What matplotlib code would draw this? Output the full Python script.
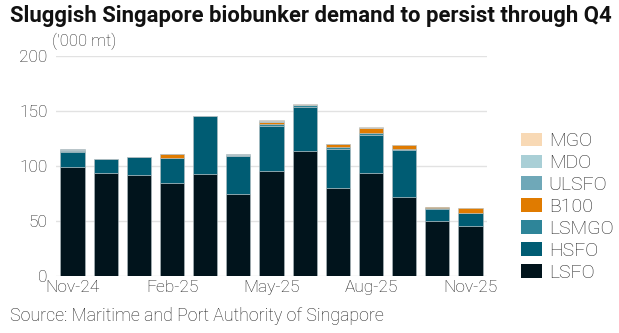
import numpy as np
import matplotlib
matplotlib.use("Agg")
import matplotlib.pyplot as plt

plt.rcParams['font.family'] = ['Roboto', 'DejaVu Sans']
plt.rcParams['font.weight'] = 'light'

# 月ラベル
months = ["Nov-24", "Dec-24", "Jan-25", "Feb-25", "Mar-25", "Apr-25", "May-25",
          "Jun-25", "Jul-25", "Aug-25", "Sep-25", "Oct-25", "Nov-25"]

# 燃料別の数量 ('000 mt)
lsfo  = [99.0, 94.0, 91.5, 85.0, 93.0, 75.0, 95.5, 114.0, 80.5, 93.5, 71.5, 50.0, 45.5]
hsfo  = [14.0, 12.0, 16.5, 22.0, 52.0, 34.0, 41.0, 39.5, 35.0, 34.5, 43.0, 11.0, 11.5]
lsmgo = [1.0, 0.3, 0.3, 0.5, 0.5, 0.5, 2.0, 1.5, 1.5, 2.0, 0.5, 0.5, 0.5]
b100  = [0.0, 0.0, 0.0, 3.0, 0.0, 0.0, 1.5, 0.0, 2.5, 4.5, 4.0, 1.5, 4.5]
ulsfo = [0.5, 0.0, 0.0, 0.0, 0.0, 0.3, 0.3, 0.5, 0.0, 0.0, 0.0, 0.0, 0.0]
mdo   = [0.8, 0.0, 0.3, 0.3, 0.0, 1.0, 0.5, 0.0, 0.0, 0.0, 0.0, 0.0, 0.0]
mgo   = [0.3, 0.0, 0.0, 0.0, 0.0, 0.3, 0.5, 1.0, 0.5, 0.5, 0.0, 0.0, 0.0]

series = [("LSFO", lsfo, "#01141c"),
          ("HSFO", hsfo, "#005c73"),
          ("LSMGO", lsmgo, "#2e8599"),
          ("B100", b100, "#e07b00"),
          ("ULSFO", ulsfo, "#6fa8b8"),
          ("MDO", mdo, "#a9cfd6"),
          ("MGO", mgo, "#f8d9b5")]

fig = plt.figure(figsize=(6.19, 3.33), dpi=100)
ax = fig.add_axes([56 / 619, 1 - 276.3 / 333, 431 / 619, 220.6 / 333])

x = np.arange(len(months))
bottom = np.zeros(len(months))
handles = []
for name, vals, col in series:
    vals = np.array(vals)
    lw = np.where(vals > 0, 0.4, 0.0)  # 0の区間は枠線なし
    b = ax.bar(x, vals, 0.73, bottom=bottom, color=col, edgecolor="#b3bec2",
               linewidth=lw, label=name, zorder=3)
    handles.append(b)
    bottom += vals

ax.set_xlim(-0.5, 12.5)
ax.set_ylim(0, 200)
ax.set_yticks([0, 50, 100, 150, 200])
ax.set_xticks(x[::3])
ax.set_xticklabels(months[::3])
ax.grid(axis="y", color="#e2e2e2", linewidth=1, zorder=0)
for s in ax.spines.values():
    s.set_visible(False)
ax.tick_params(length=0, labelsize=12.5, colors="#222222", pad=3)
ax.tick_params(axis="y", pad=6)

# 凡例（上からMGO→LSFO）
leg = fig.legend(handles[::-1], [s[0] for s in series][::-1], loc="center left",
                 bbox_to_anchor=(503 / 619, 1 - 207 / 333), frameon=False,
                 fontsize=14, handlelength=1.1, handleheight=0.7,
                 handletextpad=0.35, labelspacing=0.2, labelcolor="#222222")
for h in leg.legend_handles:
    h.set_linewidth(0)

fig.text(10 / 619, 1 - 16 / 333, "Sluggish Singapore biobunker demand to persist through Q4",
         fontsize=15.9, fontweight="bold", color="#111111", va="center")
fig.text(52 / 619, 1 - 41 / 333, "('000 mt)", fontsize=12, color="#222222", va="center")
fig.text(10 / 619, 1 - 316 / 333, "Source: Maritime and Port Authority of Singapore",
         fontsize=12.8, color="#222222", va="center")

fig.savefig("out.png", dpi=100)
